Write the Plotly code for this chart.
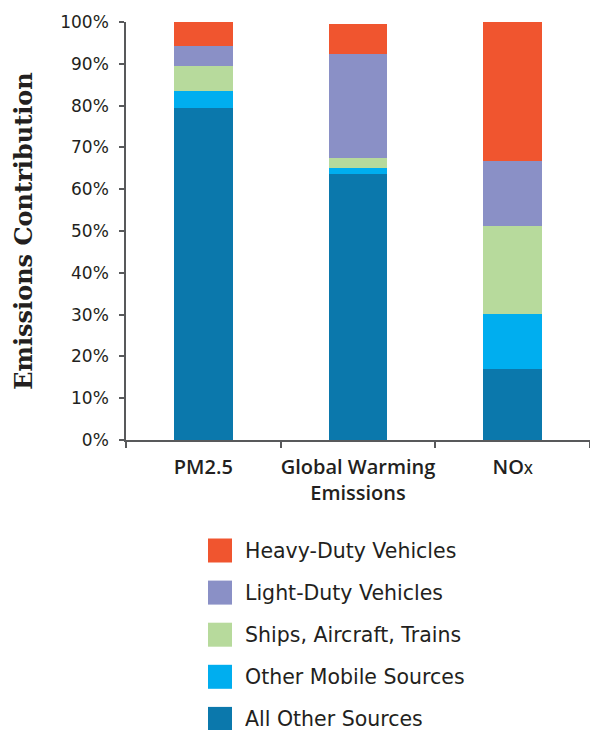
import plotly.graph_objects as go

categories = ["PM2.5", "Global Warming<br>Emissions", "NO<span style='font-size:14px'>X</span>"]
series_names = ["All Other Sources", "Other Mobile Sources", "Ships, Aircraft, Trains",
                "Light-Duty Vehicles", "Heavy-Duty Vehicles"]
all_other = [79.4, 63.6, 16.9]
other_mobile = [4.1, 1.4, 13.2]
ships = [6.0, 2.4, 21.0]
light_duty = [4.8, 25.0, 15.6]
heavy_duty = [5.7, 7.2, 33.3]
series_values = [all_other, other_mobile, ships, light_duty, heavy_duty]
colors = ["#0B78AC", "#00AEEF", "#B7DA9C", "#8A90C6", "#F0552F"]
y_ticks = [0, 10, 20, 30, 40, 50, 60, 70, 80, 90, 100]
y_ticktext = [f"{v}%" for v in y_ticks]

W, H = 590, 730
L, R, T, B = 126, 0, 22, 290
TEXT = "#231F20"

fig = go.Figure()
for name, vals, col in zip(series_names, series_values, colors):
    fig.add_trace(go.Bar(x=categories, y=vals, name=name, marker_color=col,
                         marker_line_width=0, showlegend=False))

plot_w = W - L - R
plot_h = H - T - B
def px_x(x):
    return (x - L) / plot_w
def px_y(y):
    return (H - B - y) / plot_h

# custom legend (top to bottom: reverse stacking order)
shapes = []
annotations = []
for i, (name, col) in enumerate(zip(series_names[::-1], colors[::-1])):
    cy = 550.5 + i * 42.1
    shapes.append(dict(type="rect", xref="paper", yref="paper",
                       x0=px_x(208), x1=px_x(232), y0=px_y(cy + 12), y1=px_y(cy - 12),
                       fillcolor=col, line_width=0))
    annotations.append(dict(text=name, xref="paper", yref="paper", x=px_x(244),
                            y=px_y(cy), xanchor="left", yanchor="middle", showarrow=False,
                            height=22, valign="middle", borderpad=0,
                            font=dict(family="DejaVu Sans", size=20.5, color=TEXT)))

fig.update_layout(
    width=W, height=H,
    margin=dict(l=L, r=R, t=T, b=B),
    paper_bgcolor="white", plot_bgcolor="white",
    barmode="stack", bargap=0.62,
    shapes=shapes, annotations=annotations,
    xaxis=dict(showline=True, linecolor="#58595B", linewidth=1.5,
               ticks="outside", tickson="boundaries", ticklen=6, tickcolor="#58595B",
               tickwidth=1.5, showgrid=False, ticklabelstandoff=8, tickangle=0,
               tickfont=dict(family="Open Sans", size=20, color=TEXT, weight=600)),
    yaxis=dict(range=[0, 100], tickvals=y_ticks, ticktext=y_ticktext, showline=True,
               linecolor="#58595B", linewidth=1.5, ticks="outside", ticklen=5,
               tickcolor="#58595B", tickwidth=1.5, showgrid=False, zeroline=False,
               ticklabelstandoff=7,
               tickfont=dict(family="DejaVu Sans", size=17, color=TEXT),
               title=dict(text="Emissions Contribution", standoff=21,
                          font=dict(family="DejaVu Serif", size=24, color=TEXT, weight="bold"))),
)

fig.write_html("out.html", config={"displayModeBar": False},
               post_script="document.body.style.margin='0';")
